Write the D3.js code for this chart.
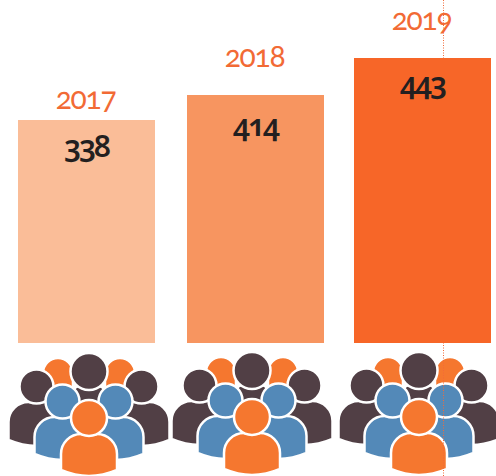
<!DOCTYPE html>
<html>
<head>
<meta charset="utf-8">
<script src="https://cdn.jsdelivr.net/npm/d3@7"></script>
<style>
  html, body { margin: 0; padding: 0; background: #fff; }
  svg { display: block; }
</style>
</head>
<body>
<div id="chart"></div>
<script>
// data
const years = ["2017", "2018", "2019"];
const values = [338, 414, 443];
const barColors = ["#fabd98", "#f79560", "#f76628"];

const width = 496, height = 476;
const baseline = 343, barWidth = 137;

const svg = d3.select("#chart")
  .append("svg")
    .attr("width", width)
    .attr("height", height);

// the columns are not evenly spaced in the original
const x = d3.scaleOrdinal().domain(years).range([18, 187, 354]);
const iconX = d3.scaleOrdinal().domain(years).range([89, 252, 419]);
const iconY = d3.scaleOrdinal().domain(years).range([0, -1, -1]);

// the bars are not drawn to scale either, so these are piecewise
const y = d3.scaleLinear().domain(values).range([120, 95, 58]);
const yearY = d3.scaleLinear().domain(values).range([109, 67, 30]);
const valueY = d3.scaleLinear().domain(values).range([157, 136, 94]);

// people icons, drawn back to front around the centre of the group
const dark = "#513f45", blue = "#5389b8", orange = "#f5772f";

function body(cx, top, w, bottom) {
  const r = Math.min(w, 20), k = r * 0.45;
  const p = d3.path();
  p.moveTo(cx - w, bottom - 6);
  p.lineTo(cx - w, top + r);
  p.bezierCurveTo(cx - w, top + k, cx - w + k, top, cx - w + r, top);
  p.lineTo(cx + w - r, top);
  p.bezierCurveTo(cx + w - k, top, cx + w, top + k, cx + w, top + r);
  p.lineTo(cx + w, bottom - 6);
  p.quadraticCurveTo(cx, bottom + 6, cx - w, bottom - 6);
  p.closePath();
  return p.toString();
}

const people = [
  {dx: -31, top: 358, w: 15, bottom: 395, fill: orange},
  {dx: 31, top: 358, w: 15, bottom: 395, fill: orange},
  {dx: 0, top: 384, w: 22, bottom: 412, r: 18.5, head: 371.5, fill: dark},
  {dx: -52.5, top: 402, w: 28, bottom: 446, r: 17, head: 386.5, fill: dark},
  {dx: 52.5, top: 402, w: 28, bottom: 446, r: 17, head: 386.5, fill: dark},
  {dx: -26.5, top: 417, w: 28, bottom: 460, r: 17, head: 401.5, fill: blue},
  {dx: 26.5, top: 417, w: 28, bottom: 460, r: 17, head: 401.5, fill: blue},
  {dx: 0, top: 434, w: 28, bottom: 476, r: 18, head: 418, fill: orange}
];

const groups = svg.selectAll("g.people")
  .data(years)
  .enter()
  .append("g")
    .attr("class", "people")
    .attr("transform", d => "translate(" + iconX(d) + "," + iconY(d) + ")");

groups.each(function() {
  const g = d3.select(this);
  people.forEach(p => {
    g.append("path")
      .attr("d", body(p.dx, p.top, p.w, p.bottom))
      .style("fill", p.fill)
      .style("stroke", "#fff")
      .style("stroke-width", 2.5);
    if (p.r) {
      g.append("circle")
        .attr("cx", p.dx)
        .attr("cy", p.head)
        .attr("r", p.r)
        .style("fill", p.fill)
        .style("stroke", "#fff")
        .style("stroke-width", 2.5);
    }
  });
});

// dotted guide line, runs behind the 2019 bar
svg.append("line")
  .attr("x1", 443.5).attr("x2", 443.5)
  .attr("y1", 0).attr("y2", height)
  .style("stroke", "#f26b38")
  .style("stroke-width", 1)
  .style("stroke-dasharray", "1 1.5");

// bars
svg.selectAll("rect.bar")
  .data(values)
  .enter()
  .append("rect")
    .attr("class", "bar")
    .attr("x", (d, i) => x(years[i]))
    .attr("y", d => y(d))
    .attr("width", barWidth)
    .attr("height", d => baseline - y(d))
    .style("fill", (d, i) => barColors[i]);

svg.selectAll("text.year")
  .data(values)
  .enter()
  .append("text")
    .attr("class", "year")
    .attr("x", (d, i) => x(years[i]) + barWidth / 2 - 1)
    .attr("y", d => yearY(d))
    .attr("text-anchor", "middle")
    .style("font-family", "Lato")
    .style("font-weight", 400)
    .style("font-size", "30px")
    .style("letter-spacing", "-1.3px")
    .style("font-variant-numeric", "oldstyle-nums")
    .style("fill", "#f26a35")
    .text((d, i) => years[i]);

svg.selectAll("text.value")
  .data(values)
  .enter()
  .append("text")
    .attr("class", "value")
    .attr("x", (d, i) => x(years[i]) + barWidth / 2)
    .attr("y", d => valueY(d))
    .attr("text-anchor", "middle")
    .style("font-family", "'Noto Sans'")
    .style("font-weight", 600)
    .style("font-size", "30px")
    .style("letter-spacing", "-2px")
    .style("font-variant-numeric", "oldstyle-nums")
    .style("fill", "#231f20")
    .text(d => d);
</script>
</body>
</html>
